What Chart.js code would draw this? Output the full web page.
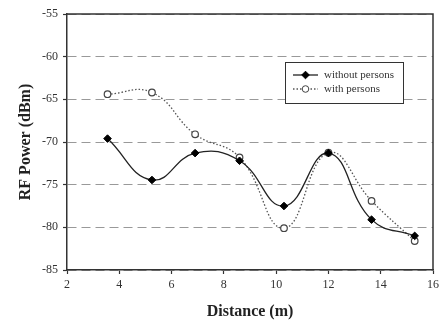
<!DOCTYPE html>
<html>
<head>
<meta charset="utf-8">
<script src="https://cdn.jsdelivr.net/npm/chart.js@4/dist/chart.umd.min.js"></script>
<style>
  html, body { margin: 0; padding: 0; background: #fff; }
  #wrap { width: 443px; height: 322px; }
</style>
</head>
<body>
<div id="wrap"><canvas id="rfChart" width="443" height="322"></canvas></div>
<script>
// distances (m) where measurements were taken
const distances = [3.55, 5.25, 6.9, 8.6, 10.3, 12.0, 13.65, 15.3];
// RF power (dBm)
const withoutPersons = [-69.6, -74.45, -71.3, -72.2, -77.5, -71.3, -79.1, -81.0];
const withPersons = [-64.4, -64.2, -69.1, -71.8, -80.1, -71.25, -76.9, -81.6];
const seriesNames = ['without persons', 'with persons'];

const xTicks = [2, 4, 6, 8, 10, 12, 14, 16];
const yTicks = [-85, -80, -75, -70, -65, -60, -55];

const serif = '"Liberation Serif", "Times New Roman", serif';
const toPoints = ys => distances.map((x, i) => ({ x: x, y: ys[i] }));

// frame round the plot + boxed legend inside the plot area
const frameAndLegend = {
    id: 'frameAndLegend',
    afterDraw(chart) {
        const { ctx, chartArea: a } = chart;
        ctx.save();
        ctx.strokeStyle = '#333';
        ctx.lineWidth = 1.5;
        ctx.beginPath();
        ctx.moveTo(a.left, a.top);
        ctx.lineTo(a.right, a.top);
        ctx.lineTo(a.right, a.bottom);
        ctx.stroke();

        // legend box
        const bx = 285.5, by = 62.5, bw = 118, bh = 41;
        ctx.fillStyle = '#fff';
        ctx.fillRect(bx, by, bw, bh);
        ctx.lineWidth = 1;
        ctx.strokeStyle = '#333';
        ctx.strokeRect(bx, by, bw, bh);

        chart.data.datasets.forEach((ds, i) => {
            const y = 75 + i * 14;
            ctx.strokeStyle = ds.borderColor;
            ctx.lineWidth = ds.borderWidth;
            ctx.setLineDash(ds.borderDash || []);
            ctx.beginPath();
            ctx.moveTo(293, y);
            ctx.lineTo(318, y);
            ctx.stroke();
            ctx.setLineDash([]);
            ctx.fillStyle = ds.pointBackgroundColor;
            ctx.strokeStyle = ds.pointBorderColor;
            ctx.lineWidth = 1;
            Chart.helpers.drawPoint(ctx, { pointStyle: ds.pointStyle, radius: ds.pointRadius, borderWidth: 1, rotation: 0 }, 305.5, y);
            ctx.fillStyle = '#333';
            ctx.font = '11px ' + serif;
            ctx.textBaseline = 'middle';
            ctx.fillText(ds.label, 324, y);
        });
        ctx.restore();
    }
};

const ctx = document.getElementById('rfChart').getContext('2d');
const chart = new Chart(ctx, {
    type: 'line',
    data: {
        datasets: [{
            label: seriesNames[0],
            data: toPoints(withoutPersons),
            borderColor: '#222',
            borderWidth: 1.3,
            tension: 0.45,
            pointStyle: 'rectRot',
            pointRadius: 3.8,
            pointBackgroundColor: '#000',
            pointBorderColor: '#000',
            pointBorderWidth: 1
        }, {
            label: seriesNames[1],
            data: toPoints(withPersons),
            borderColor: '#555',
            borderWidth: 1.3,
            borderDash: [1.5, 2],
            tension: 0.45,
            pointStyle: 'circle',
            pointRadius: 3.3,
            pointBackgroundColor: '#fff',
            pointBorderColor: '#444',
            pointBorderWidth: 1.2
        }]
    },
    options: {
        responsive: false,
        animation: false,
        layout: { padding: { left: 0, right: 8, top: 14, bottom: 0 } },
        plugins: {
            legend: { display: false },
            tooltip: { enabled: false }
        },
        scales: {
            x: {
                type: 'linear',
                min: 2,
                max: 16,
                afterBuildTicks: s => { s.ticks = xTicks.map(v => ({ value: v })); },
                afterFit: s => { s.height = 52; },
                grid: { drawOnChartArea: false, tickLength: 4, tickColor: '#333', tickWidth: 1.2 },
                border: { color: '#333', width: 1.5 },
                ticks: { color: '#333', padding: 4, font: { family: serif, size: 12 } },
                title: { display: true, text: 'Distance (m)', color: '#222', padding: { top: 0, bottom: 1 },
                         font: { family: serif, size: 16, weight: 'bold' } }
            },
            y: {
                min: -85,
                max: -55,
                afterBuildTicks: s => { s.ticks = yTicks.map(v => ({ value: v })); },
                afterFit: s => { s.width = 67; },
                grid: { color: '#999', lineWidth: 1, tickLength: 4, tickColor: '#333', tickBorderDash: [], tickWidth: 1.2 },
                border: { color: '#333', width: 1.5, dash: [9, 5] },
                ticks: { color: '#333', padding: 5, font: { family: serif, size: 12 } },
                title: { display: true, text: 'RF Power (dBm)', color: '#222', padding: { top: 16, bottom: 0 },
                         font: { family: serif, size: 16, weight: 'bold' } }
            }
        }
    },
    plugins: [frameAndLegend]
});
</script>
</body>
</html>
